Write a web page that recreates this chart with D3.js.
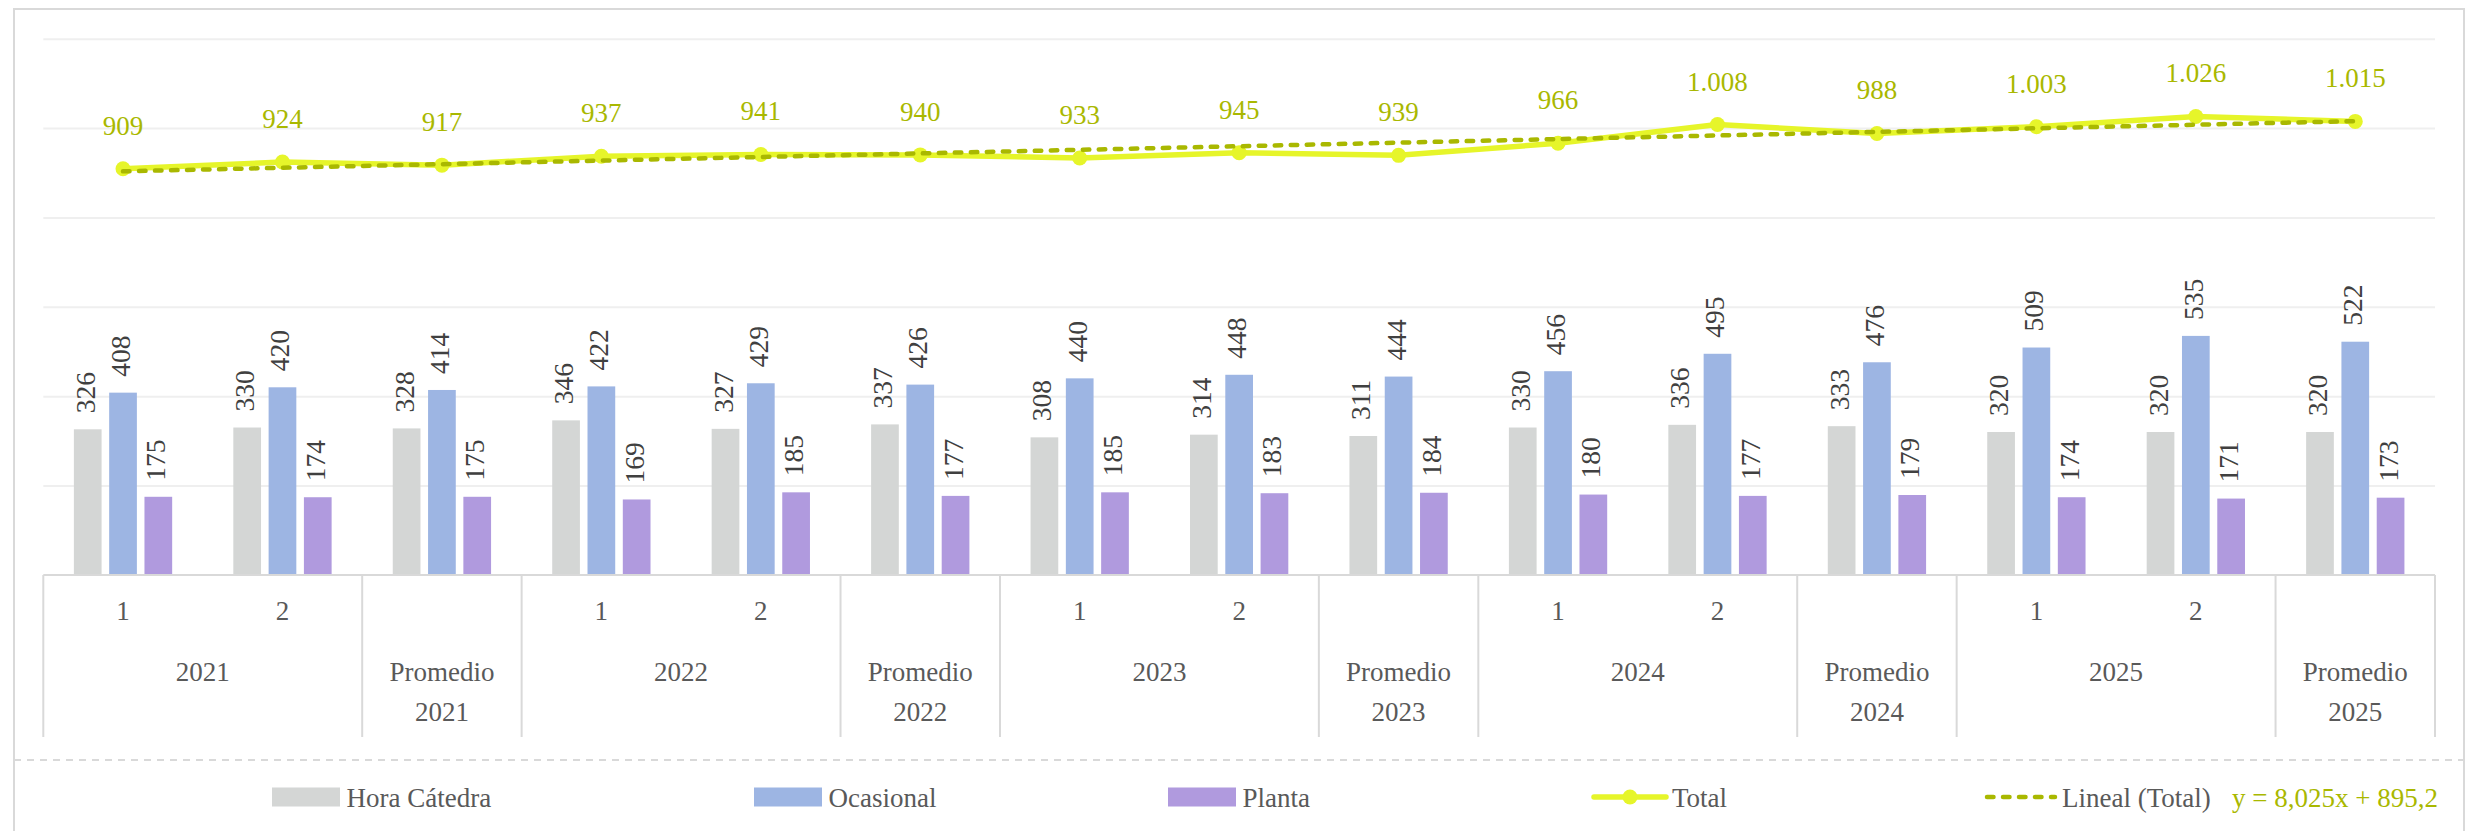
<!DOCTYPE html>
<html>
<head>
<meta charset="utf-8">
<script src="https://cdn.jsdelivr.net/npm/d3@7"></script>
<style>
  html, body { margin: 0; padding: 0; background: #ffffff; }
  svg { display: block; }
</style>
</head>
<body>
<svg id="chart" width="2477" height="831" font-family="'Liberation Serif', 'Times New Roman', serif"></svg>
<script>
// Category labels: inner level (semester) and outer level (year / average)
const inner = ["1", "2", "Promedio\n2021", "1", "2", "Promedio\n2022", "1", "2", "Promedio\n2023",
               "1", "2", "Promedio\n2024", "1", "2", "Promedio\n2025"];
const years = ["2021", "2022", "2023", "2024", "2025"];

// Series values
const horaCatedra = [326, 330, 328, 346, 327, 337, 308, 314, 311, 330, 336, 333, 320, 320, 320];
const ocasional   = [408, 420, 414, 422, 429, 426, 440, 448, 444, 456, 495, 476, 509, 535, 522];
const planta      = [175, 174, 175, 169, 185, 177, 185, 183, 184, 180, 177, 179, 174, 171, 173];
const total       = [909, 924, 917, 937, 941, 940, 933, 945, 939, 966, 1008, 988, 1003, 1026, 1015];

const seriesNames = ["Hora Cátedra", "Ocasional", "Planta"];
const yTicks = [0, 200, 400, 600, 800, 1000, 1200];

const colors = {
  "Hora Cátedra": "#d4d6d5",
  "Ocasional": "#9db5e3",
  "Planta": "#b09ade",
  total: "#e6f52a",
  trend: "#a9b800",
  label: "#404040",
  axisText: "#595959",
  grid: "#efefef",
  axis: "#d9d9d9"
};

const serif = "'Liberation Serif', 'Times New Roman', serif";
const locale = d3.formatLocale({ decimal: ",", thousands: ".", grouping: [3], currency: ["$", ""] });
const fmtInt = locale.format(",d");

const svg = d3.select("#chart");
const plot = { left: 43.3, right: 2435, top: 38.7, bottom: 575 };

// Outer frame
svg.append("rect")
  .attr("x", 14).attr("y", 9).attr("width", 2450).attr("height", 830)
  .attr("fill", "#ffffff").attr("stroke", colors.axis).attr("stroke-width", 2);

const x = d3.scaleBand().domain(d3.range(inner.length)).range([plot.left, plot.right]).padding(0);
const groupW = 98.3;
const xSub = d3.scaleBand().domain(seriesNames).range([-groupW / 2, groupW / 2]).paddingInner(0.215);
const y = d3.scaleLinear().domain([0, 1200]).range([plot.bottom, plot.top]);

// Horizontal gridlines
svg.append("g")
  .attr("transform", `translate(${plot.left},0)`)
  .call(d3.axisLeft(y).tickValues(yTicks.slice(1)).tickSize(-(plot.right - plot.left)).tickFormat(""))
  .call(g => g.select(".domain").remove())
  .call(g => g.selectAll(".tick line").attr("stroke", colors.grid).attr("stroke-width", 2));

// Bars
const barData = seriesNames.map((name, si) => ({
  name,
  values: [horaCatedra, ocasional, planta][si]
}));

const cx = i => x(i) + x.bandwidth() / 2;

barData.forEach(s => {
  const g = svg.append("g");
  g.selectAll("rect").data(s.values).join("rect")
    .attr("x", (d, i) => cx(i) + xSub(s.name))
    .attr("y", d => y(d))
    .attr("width", xSub.bandwidth())
    .attr("height", d => y(0) - y(d))
    .attr("fill", colors[s.name]);
  g.selectAll("text").data(s.values).join("text")
    .attr("transform", (d, i) => `translate(${cx(i) + xSub(s.name) + xSub.bandwidth() / 2 + 7},${y(d) - 16}) rotate(-90)`)
    .attr("text-anchor", "start")
    .attr("font-family", serif)
    .attr("font-size", 27.5)
    .attr("fill", colors.label)
    .text(d => fmtInt(d));
});

// Category axis baseline and group separators
svg.append("line")
  .attr("x1", plot.left).attr("x2", plot.right)
  .attr("y1", plot.bottom).attr("y2", plot.bottom)
  .attr("stroke", colors.axis).attr("stroke-width", 2);

const separators = [0, 2, 3, 5, 6, 8, 9, 11, 12, 14].map(i => x(i)).concat([plot.right]);
svg.append("g").selectAll("line").data(separators).join("line")
  .attr("x1", d => d).attr("x2", d => d)
  .attr("y1", plot.bottom).attr("y2", 737)
  .attr("stroke", colors.axis).attr("stroke-width", 2);

// Inner category labels
const catG = svg.append("g").attr("font-family", serif).attr("font-size", 27)
  .attr("fill", colors.axisText).attr("text-anchor", "middle");
inner.forEach((lab, i) => {
  if (lab.includes("\n")) {
    const lines = lab.split("\n");
    catG.append("text").attr("x", cx(i)).attr("y", 680.5).text(lines[0]);
    catG.append("text").attr("x", cx(i)).attr("y", 721).text(lines[1]);
  } else {
    catG.append("text").attr("x", cx(i)).attr("y", 619.5).text(lab);
  }
});
// Outer (year) labels centred under their two semesters
years.forEach((yr, k) => {
  const a = x(k * 3), b = x(k * 3 + 1) + x.bandwidth();
  catG.append("text").attr("x", (a + b) / 2).attr("y", 680.5).text(yr);
});

// Total line with markers
const line = d3.line().x((d, i) => cx(i)).y(d => y(d));
svg.append("path").datum(total)
  .attr("d", line)
  .attr("fill", "none")
  .attr("stroke", colors.total)
  .attr("stroke-width", 5.5)
  .attr("stroke-linejoin", "round");
svg.append("g").selectAll("circle").data(total).join("circle")
  .attr("cx", (d, i) => cx(i)).attr("cy", d => y(d)).attr("r", 7.5)
  .attr("fill", colors.total);
svg.append("g").selectAll("text").data(total).join("text")
  .attr("x", (d, i) => cx(i)).attr("y", d => y(d) - 34)
  .attr("text-anchor", "middle")
  .attr("font-family", serif).attr("font-size", 27)
  .attr("fill", colors.trend)
  .text(d => fmtInt(d));

// Linear trend of the total (least squares over positions 1..n)
const n = total.length;
const xs = d3.range(1, n + 1);
const mx = d3.mean(xs), my = d3.mean(total);
const slope = d3.sum(xs, (v, i) => (v - mx) * (total[i] - my)) / d3.sum(xs, v => (v - mx) ** 2);
const intercept = my - slope * mx;
svg.append("line")
  .attr("x1", cx(0)).attr("y1", y(slope * 1 + intercept))
  .attr("x2", cx(n - 1)).attr("y2", y(slope * n + intercept))
  .attr("stroke", colors.trend).attr("stroke-width", 4.5)
  .attr("stroke-dasharray", "6.5,9.5").attr("stroke-linecap", "round");

// Legend separator
svg.append("line")
  .attr("x1", 14).attr("x2", 2464).attr("y1", 760).attr("y2", 760)
  .attr("stroke", colors.axis).attr("stroke-width", 2).attr("stroke-dasharray", "7,6");

// Legend
const legY = 797;
const legText = 806.5;
const lg = svg.append("g").attr("font-family", serif).attr("font-size", 27).attr("fill", colors.axisText);
const swatchX = { "Hora Cátedra": 272, "Ocasional": 754, "Planta": 1168 };
seriesNames.forEach(name => {
  lg.append("rect").attr("x", swatchX[name]).attr("y", legY - 9.5).attr("width", 68).attr("height", 19)
    .attr("fill", colors[name]);
  lg.append("text").attr("x", swatchX[name] + 74.5).attr("y", legText).text(name);
});
lg.append("line").attr("x1", 1594).attr("x2", 1666).attr("y1", legY).attr("y2", legY)
  .attr("stroke", colors.total).attr("stroke-width", 5.5).attr("stroke-linecap", "round");
lg.append("circle").attr("cx", 1630).attr("cy", legY).attr("r", 7.5).attr("fill", colors.total);
lg.append("text").attr("x", 1672).attr("y", legText).text("Total");

lg.append("line").attr("x1", 1987).attr("x2", 2055).attr("y1", legY).attr("y2", legY)
  .attr("stroke", colors.trend).attr("stroke-width", 4.5)
  .attr("stroke-dasharray", "6.5,9.5").attr("stroke-linecap", "round");
lg.append("text").attr("x", 2062).attr("y", legText).text("Lineal (Total)");
const fmtCoef = locale.format(",.3~f");
const fmtInt1 = locale.format(",.1~f");
lg.append("text").attr("x", 2232).attr("y", legText).attr("fill", colors.trend)
  .text(`y = ${fmtCoef(slope)}x + ${fmtInt1(intercept)}`);
</script>
</body>
</html>
